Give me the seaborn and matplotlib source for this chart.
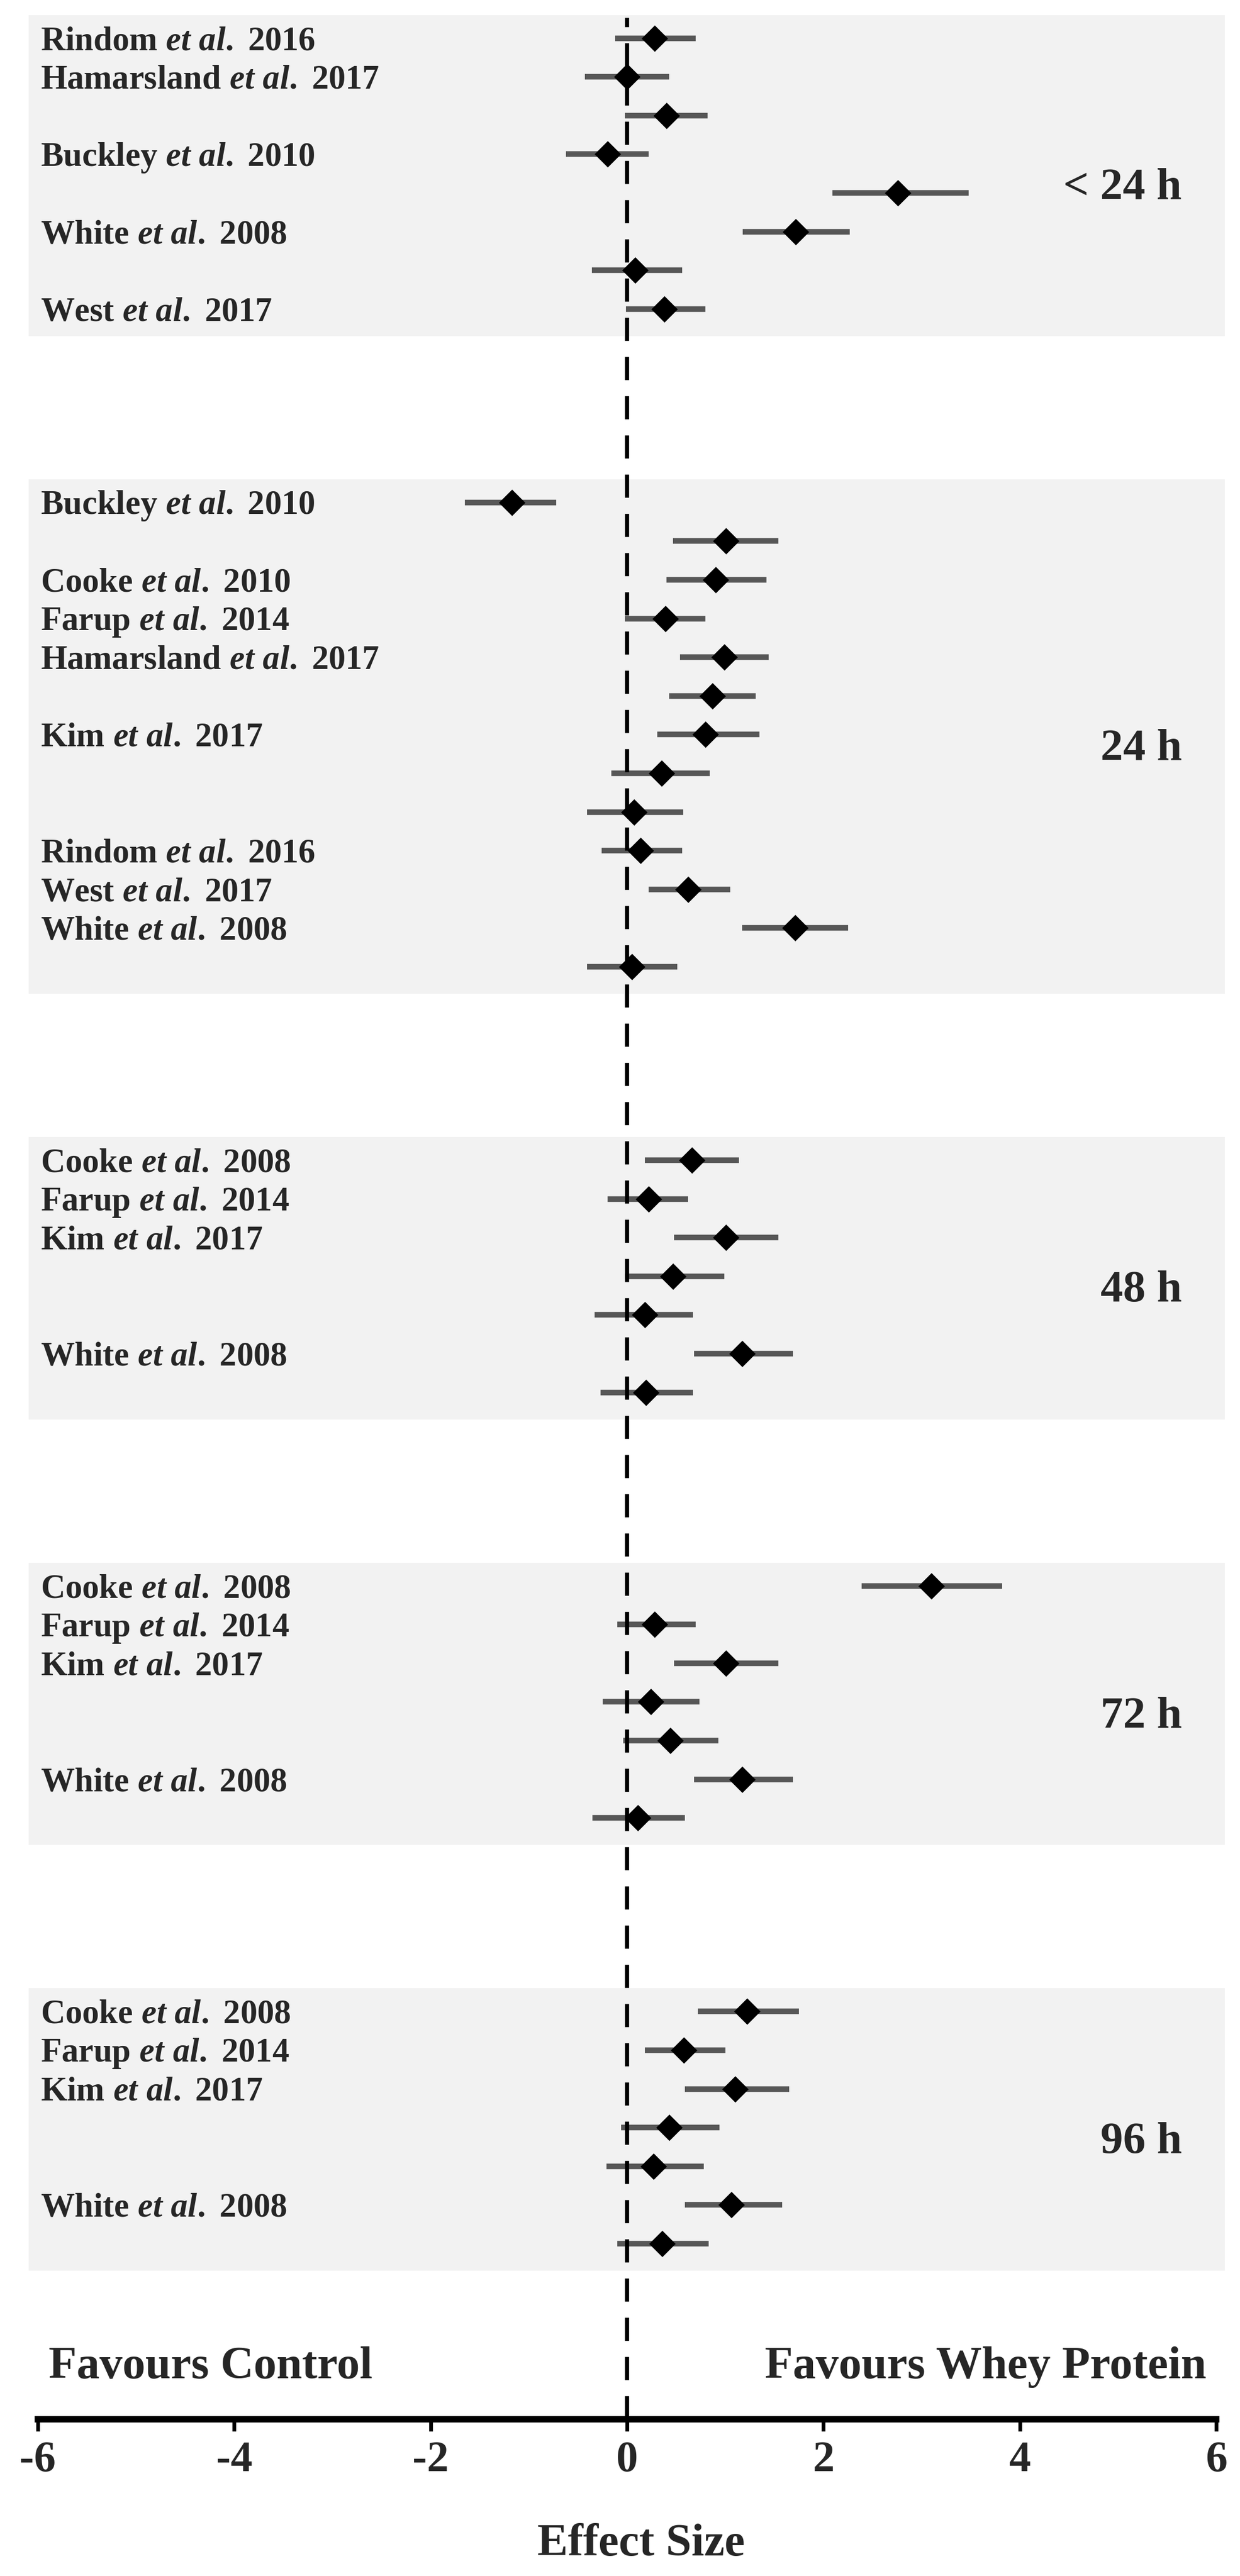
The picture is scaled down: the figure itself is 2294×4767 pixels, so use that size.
import numpy as np
import pandas as pd
import seaborn as sns
import matplotlib.pyplot as plt

# "" marks an outcome row that carries no study label
labels_lt24 = ["Rindom 2016", "Hamarsland 2017", "", "Buckley 2010", "", "White 2008", "", "West 2017"]
es_lt24 = [0.28, 0.00, 0.40, -0.20, 2.76, 1.72, 0.08, 0.38]
lo_lt24 = [-0.12, -0.43, -0.02, -0.62, 2.09, 1.18, -0.36, -0.01]
hi_lt24 = [0.70, 0.43, 0.82, 0.22, 3.48, 2.27, 0.56, 0.80]

labels_24 = ["Buckley 2010", "", "Cooke 2010", "Farup 2014", "Hamarsland 2017", "", "Kim 2017",
             "", "", "Rindom 2016", "West 2017", "White 2008", ""]
es_24 = [-1.17, 1.01, 0.90, 0.39, 0.99, 0.87, 0.80, 0.35, 0.07, 0.14, 0.62, 1.71, 0.05]
lo_24 = [-1.65, 0.47, 0.40, -0.02, 0.54, 0.43, 0.31, -0.16, -0.41, -0.26, 0.22, 1.17, -0.41]
hi_24 = [-0.72, 1.54, 1.42, 0.80, 1.44, 1.31, 1.35, 0.84, 0.57, 0.56, 1.05, 2.25, 0.51]

labels_48 = ["Cooke 2008", "Farup 2014", "Kim 2017", "", "", "White 2008", ""]
es_48 = [0.66, 0.22, 1.01, 0.47, 0.18, 1.17, 0.19]
lo_48 = [0.18, -0.20, 0.48, -0.02, -0.33, 0.68, -0.27]
hi_48 = [1.14, 0.62, 1.54, 0.99, 0.67, 1.69, 0.67]

labels_72 = ["Cooke 2008", "Farup 2014", "Kim 2017", "", "", "White 2008", ""]
es_72 = [3.10, 0.28, 1.01, 0.24, 0.44, 1.17, 0.11]
lo_72 = [2.39, -0.10, 0.48, -0.25, -0.04, 0.68, -0.35]
hi_72 = [3.82, 0.70, 1.54, 0.74, 0.93, 1.69, 0.59]

labels_96 = ["Cooke 2008", "Farup 2014", "Kim 2017", "", "", "White 2008", ""]
es_96 = [1.22, 0.58, 1.10, 0.43, 0.27, 1.06, 0.36]
lo_96 = [0.72, 0.18, 0.59, -0.06, -0.21, 0.59, -0.10]
hi_96 = [1.75, 1.00, 1.65, 0.94, 0.78, 1.58, 0.83]

timepoints = ["< 24 h", "24 h", "48 h", "72 h", "96 h"]
groups = [
    (labels_lt24, es_lt24, lo_lt24, hi_lt24),
    (labels_24, es_24, lo_24, hi_24),
    (labels_48, es_48, lo_48, hi_48),
    (labels_72, es_72, lo_72, hi_72),
    (labels_96, es_96, lo_96, hi_96),
]

# one row per estimate, 4 empty rows between time points
records = []
start = 0
for tp, (labs, es, lo, hi) in zip(timepoints, groups):
    for i in range(len(es)):
        records.append({"timepoint": tp, "label": labs[i], "es": es[i],
                        "lo": lo[i], "hi": hi[i], "row": start + i})
    start += len(es) + 4
df = pd.DataFrame(records)

sns.set_theme(style="white")
plt.rcParams["font.family"] = ["Liberation Serif", "DejaVu Serif"]
plt.rcParams["font.weight"] = "bold"
plt.rcParams["axes.unicode_minus"] = False
plt.rcParams["mathtext.fontset"] = "custom"
plt.rcParams["mathtext.rm"] = "Liberation Serif:bold"
plt.rcParams["mathtext.it"] = "Liberation Serif:italic:bold"
plt.rcParams["mathtext.bf"] = "Liberation Serif:bold"

fig = plt.figure(figsize=(22.94, 47.67), dpi=100)
ax = fig.add_axes([70 / 2294, 1 - 4477 / 4767, 2180 / 2294, 4477 / 4767])

# grey band behind each time point
for tp in timepoints:
    sub = df[df.timepoint == tp]
    top, bot = sub.row.min() - 0.6, sub.row.max() + 0.7
    ax.axhspan(top, bot, xmin=-0.0078, xmax=1.0075, color="#f2f2f2", lw=0,
               zorder=0, clip_on=False)
    ax.text(5.65, (top + bot) / 2 + 0.6, tp, ha="right", va="baseline",
            fontsize=60, fontweight="bold")

ax.hlines(df.row, df.lo, df.hi, color="#575757", lw=7.5, zorder=1.5)
ax.axvline(0, ymin=0, ymax=1 - 33 / 4477, color="black", lw=5.5,
           ls=(0, (5.6, 3.9)), zorder=2)
sns.scatterplot(data=df, x="es", y="row", marker="D", s=620, color="black",
                linewidth=0, zorder=3, ax=ax, legend=False)

for _, r in df[df.label != ""].iterrows():
    name, year = r.label.rsplit(" ", 1)
    txt = rf"$\mathrm{{{name}}}\ \mathit{{et\ al.}}\ \mathrm{{{year}}}$"
    ax.text(-5.97, r.row + 0.30, txt, fontsize=45, ha="left", va="baseline")

ax.text(-5.89, 60.48, "Favours Control", ha="left", va="baseline",
        fontsize=61, fontweight="bold")
ax.text(5.9, 60.48, "Favours Whey Protein", ha="right", va="baseline",
        fontsize=61, fontweight="bold")

ax.set_xlim(-6, 6)
ax.set_ylim(61.54, -0.985)
ax.set_xticks(np.arange(-6, 7, 2))
ax.set_yticks([])
ax.set_ylabel("")
ax.tick_params(axis="x", direction="out", length=16, width=5, pad=13,
               labelsize=58, color="black", bottom=True)
for lab in ax.get_xticklabels():
    lab.set_fontweight("bold")
for side in ["top", "left", "right"]:
    ax.spines[side].set_visible(False)
ax.spines["bottom"].set_linewidth(8.5)
ax.spines["bottom"].set_color("black")

ax.set_xlabel("Effect Size", fontsize=61, fontweight="bold")
ax.xaxis.set_label_coords(0.512, (4477 - 4709) / 4477)
ax.xaxis.label.set_verticalalignment("center")

fig.savefig("out.png", dpi=100)
